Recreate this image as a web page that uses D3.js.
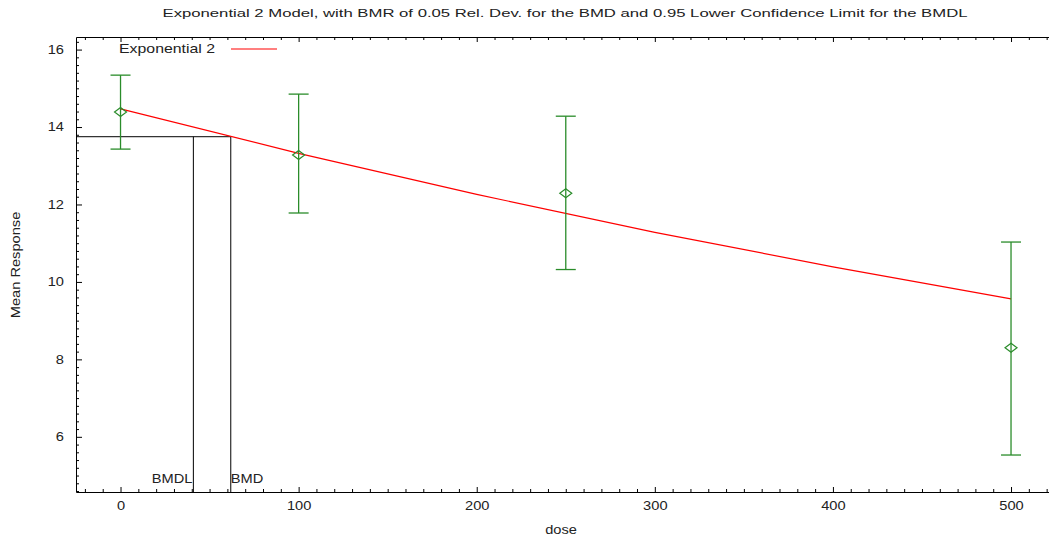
<!DOCTYPE html>
<html>
<head>
<meta charset="utf-8">
<script src="https://cdn.jsdelivr.net/npm/d3@7"></script>
<style>
  body { margin: 0; background: #fff; }
  svg { display: block; font-family: "Liberation Sans", Arial, sans-serif; }
  .axis path, .axis line { stroke: #000; }
  .axis text { fill: #222; font-size: 12px; }
</style>
</head>
<body>
<script>
// observed data (mean response with confidence bars)
const doses = [0, 100, 250, 500];
const means = [14.39, 13.28, 12.29, 8.30];
const lowers = [13.43, 11.78, 10.32, 5.53];
const uppers = [15.34, 14.85, 14.28, 11.03];

// fitted exponential 2 curve
const fitDoses = [0, 100, 200, 300, 400, 500];
const fitValues = [14.47, 13.32, 12.26, 11.28, 10.39, 9.56];

// benchmark dose markers
const bmrLevel = 13.75;
const bmdl = 40.9, bmd = 61.9;

const xTicks = [0, 100, 200, 300, 400, 500];
const yTicks = [6, 8, 10, 12, 14, 16];

const W = 1049, H = 538;
const LEFT = 76, TOP = 37, BOTTOM = 492;
const GREEN = "#2a8c2a", RED = "#ff0000";
const SX = 1.22; // the original text is drawn a bit wide

const svg = d3.select("body").append("svg").attr("width", W).attr("height", H);

const x = d3.scaleLinear().domain([-25, 525]).range([LEFT, LEFT + 550 * 1.781]);
const y = d3.scaleLinear().domain([4.575, 16.325]).range([BOTTOM, TOP]);

let minorX = d3.range(-20, 530, 10).filter(v => v % 100 != 0);
let minorY = d3.range(4.6, 16.3, 0.2).map(v => +v.toFixed(1)).filter(v => Math.abs(v - Math.round(v / 2) * 2) > 0.01);

// wide text helper
let label = (tx, ty, str, size, anchor, rot) => {
  svg.append("text")
    .attr("transform", "translate(" + tx + "," + ty + ")" + (rot ? " rotate(-90)" : "") + " scale(" + SX + ",1)")
    .attr("text-anchor", anchor || "start").attr("font-size", size).attr("fill", "#222").text(str);
};

// bottom axis, ticks pointing in
svg.append("g").attr("class", "axis").attr("transform", "translate(0," + BOTTOM + ")")
  .call(d3.axisBottom(x).tickValues(xTicks).tickSizeInner(-5).tickSizeOuter(0).tickPadding(14))
  .call(g => g.selectAll("text").attr("dy", "0.3em").attr("transform", "scale(" + SX + ",1)"));
svg.append("g").attr("class", "axis").attr("transform", "translate(0," + BOTTOM + ")")
  .call(d3.axisBottom(x).tickValues(minorX).tickSize(-3).tickFormat(""))
  .call(g => g.select(".domain").remove());

// top axis, mirrored ticks
svg.append("g").attr("class", "axis").attr("transform", "translate(0," + TOP + ")")
  .call(d3.axisTop(x).tickValues(xTicks).tickSizeInner(-5).tickSizeOuter(0).tickFormat(""));
svg.append("g").attr("class", "axis").attr("transform", "translate(0," + TOP + ")")
  .call(d3.axisTop(x).tickValues(minorX).tickSize(-3).tickFormat(""))
  .call(g => g.select(".domain").remove());

// left axis
svg.append("g").attr("class", "axis").attr("transform", "translate(" + LEFT + ",0)")
  .call(d3.axisLeft(y).tickValues(yTicks).tickSizeInner(-6).tickSizeOuter(0).tickPadding(12))
  .call(g => g.selectAll("text").attr("x", -12 / SX).attr("transform", "scale(" + SX + ",1)"));
svg.append("g").attr("class", "axis").attr("transform", "translate(" + LEFT + ",0)")
  .call(d3.axisLeft(y).tickValues(minorY).tickSize(-3).tickFormat(""))
  .call(g => g.select(".domain").remove());

// title and axis labels
svg.append("text").attr("x", 565).attr("y", 17).attr("text-anchor", "middle")
  .attr("font-size", 11).attr("fill", "#222")
  .attr("textLength", 805).attr("lengthAdjust", "spacingAndGlyphs")
  .text("Exponential 2 Model, with BMR of 0.05 Rel. Dev. for the BMD and 0.95 Lower Confidence Limit for the BMDL");
label(561, 534, "dose", 12, "middle");
label(20, 265, "Mean Response", 12, "middle", true);

// legend
label(119, 53, "Exponential 2", 13);
svg.append("line").attr("x1", 231).attr("x2", 277).attr("y1", 49).attr("y2", 49)
  .attr("stroke", RED).attr("stroke-width", 1.2);

// BMD / BMDL guide lines
svg.append("line").attr("x1", x(-25)).attr("x2", x(bmd)).attr("y1", y(bmrLevel)).attr("y2", y(bmrLevel)).attr("stroke", "#000");
[bmdl, bmd].forEach(v => {
  svg.append("line").attr("x1", x(v)).attr("x2", x(v)).attr("y1", y(bmrLevel)).attr("y2", BOTTOM).attr("stroke", "#000");
});
label(x(bmdl) - 1, 483, "BMDL", 12, "end");
label(x(bmd), 483, "BMD", 12);

// fitted curve
svg.append("path").datum(fitDoses.map((d, i) => [d, fitValues[i]]))
  .attr("fill", "none").attr("stroke", RED).attr("stroke-width", 1.2)
  .attr("d", d3.line().x(d => x(d[0])).y(d => y(d[1])));

// error bars and diamonds
const pts = svg.selectAll(".pt").data(doses.map((d, i) => ({ d, m: means[i], lo: lowers[i], hi: uppers[i] })))
  .enter().append("g").attr("class", "pt");
pts.append("line").attr("x1", p => x(p.d)).attr("x2", p => x(p.d)).attr("y1", p => y(p.lo)).attr("y2", p => y(p.hi))
  .attr("stroke", GREEN).attr("stroke-width", 1.3);
pts.append("line").attr("x1", p => x(p.d) - 10).attr("x2", p => x(p.d) + 10).attr("y1", p => y(p.hi)).attr("y2", p => y(p.hi))
  .attr("stroke", GREEN).attr("stroke-width", 1.3);
pts.append("line").attr("x1", p => x(p.d) - 10).attr("x2", p => x(p.d) + 10).attr("y1", p => y(p.lo)).attr("y2", p => y(p.lo))
  .attr("stroke", GREEN).attr("stroke-width", 1.3);
pts.append("path")
  .attr("d", p => { let cx = x(p.d), cy = y(p.m); return "M" + (cx - 6) + "," + cy + "L" + cx + "," + (cy - 4.5) + "L" + (cx + 6) + "," + cy + "L" + cx + "," + (cy + 4.5) + "Z"; })
  .attr("fill", "none").attr("stroke", GREEN).attr("stroke-width", 1.2);
</script>
</body>
</html>
